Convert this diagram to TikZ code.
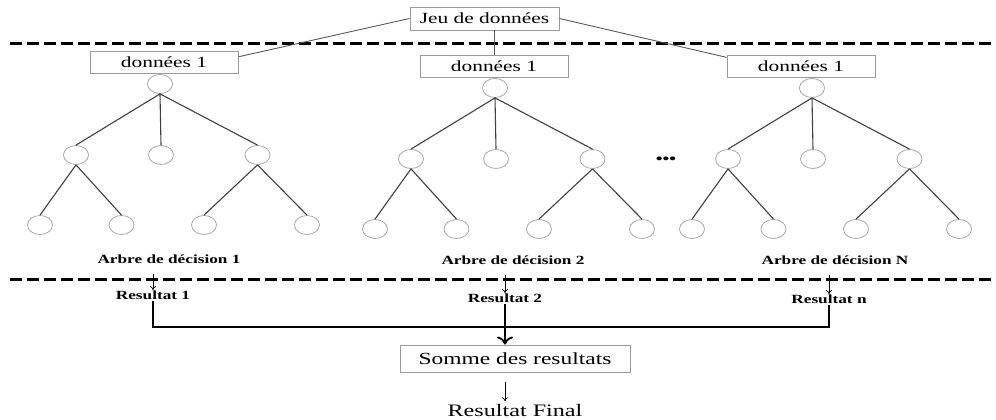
\documentclass[tikz,border=0pt]{standalone}
\usepackage{fontspec}
\setmainfont[FakeStretch=1.38]{Liberation Serif}
\usepackage{tikz}
\usetikzlibrary{arrows.meta,shapes.geometric}
\tikzset{
  databox/.style={draw=gray!80, line width=0.9pt, minimum width=148pt, minimum height=22pt, inner sep=0pt, font=\fontsize{15.5}{18}\selectfont},
  leaf/.style={ellipse, draw=gray!70, line width=0.8pt, minimum width=25pt, minimum height=19pt, inner sep=0pt},
  branch/.style={draw=black!75, line width=1.1pt},
  link/.style={draw=black!65, line width=0.9pt},
  sepline/.style={line width=3pt, dash pattern=on 12pt off 5pt},
  lbl/.style={font=\fontsize{12.5}{14}\selectfont\bfseries, inner sep=1pt, anchor=base},
  arr/.style={-{To[length=4pt,width=6pt]}, line width=0.7pt},
  bigarr/.style={-{To[length=8pt,width=16pt]}, line width=1.8pt},
}
% one decision tree: #1 name prefix, #2 root position
\newcommand{\dectree}[2]{%
  \node[leaf] (#1) at (#2) {};
  \node[leaf] (#1a) at ([shift={(-84,-71)}]#1) {};
  \node[leaf] (#1b) at ([shift={(1,-71)}]#1) {};
  \node[leaf] (#1c) at ([shift={(97.5,-71)}]#1) {};
  \node[leaf] (#1aa) at ([shift={(-36,-70)}]#1a) {};
  \node[leaf] (#1ab) at ([shift={(45.5,-70)}]#1a) {};
  \node[leaf] (#1ca) at ([shift={(-53.5,-70)}]#1c) {};
  \node[leaf] (#1cb) at ([shift={(49.5,-70)}]#1c) {};
  \foreach \k in {a,b,c} \draw[branch] (#1.south) -- (#1\k.north);
  \foreach \k/\c in {a/aa,a/ab,c/ca,c/cb} \draw[branch] (#1\k.south) -- (#1\c.north);
}
\begin{document}
\begin{tikzpicture}[x=1pt,y=1pt]
  \useasboundingbox (0,0) rectangle (996,420);
  % bootstrap samples
  \draw[sepline] (10,376) -- (996,376);
  \node[databox, minimum width=149pt, minimum height=23pt] (jeu) at (484.5,401.5) {Jeu de données};
  \node[databox] (d1) at (164,358) {données 1};
  \node[databox] (d2) at (494,354) {données 1};
  \node[databox] (d3) at (801,353.5) {données 1};
  \draw[link] (jeu.west) -- (d1.4);
  \draw[link] (jeu.south -| d2.north) -- (d2.north);
  \draw[link] (jeu.east) -- (d3.173);
  % trees
  \dectree{ta}{160,336}
  \dectree{tb}{495,332}
  \dectree{tc}{812,332}
  \node[font=\fontsize{14}{14}\selectfont\bfseries, inner sep=0pt] (dots) at (666,260) {•••};
  \node[lbl] (arb1) at (169,156) {Arbre de décision 1};
  \node[lbl] (arb2) at (513,155) {Arbre de décision 2};
  \node[lbl] (arbN) at (835,155) {Arbre de décision N};
  % votes
  \draw[sepline] (10,140) -- (996,140);
  \node[lbl] (res1) at (153,120) {Resultat 1};
  \node[lbl] (res2) at (505,117) {Resultat 2};
  \node[lbl] (resn) at (829,116) {Resultat n};
  \draw[arr, shorten <=9pt] (arb1.south -| res1) -- (res1.north);
  \draw[arr, shorten <=9pt] (arb2.south -| res2) -- (res2.north);
  \draw[arr, shorten <=9pt] (arbN.south -| resn) -- (resn.north);
  \coordinate (bus) at (0,93);
  \draw[line width=1.5pt] (res1.south) -- (res1.south |- bus) -- (resn.south |- bus) -- (resn.south);
  \node[databox, minimum width=230pt, minimum height=27pt, font=\fontsize{17}{20}\selectfont] (sum) at (515,61.5) {Somme des resultats};
  \draw[bigarr] (res2.south) -- (res2.south |- sum.north);
  \node[font=\fontsize{17.5}{20}\selectfont, anchor=base] (final) at (515,3) {Resultat Final};
  \draw[arr, shorten <=10pt] (sum.south -| res2) -- (final.north -| res2);
\end{tikzpicture}
\end{document}
